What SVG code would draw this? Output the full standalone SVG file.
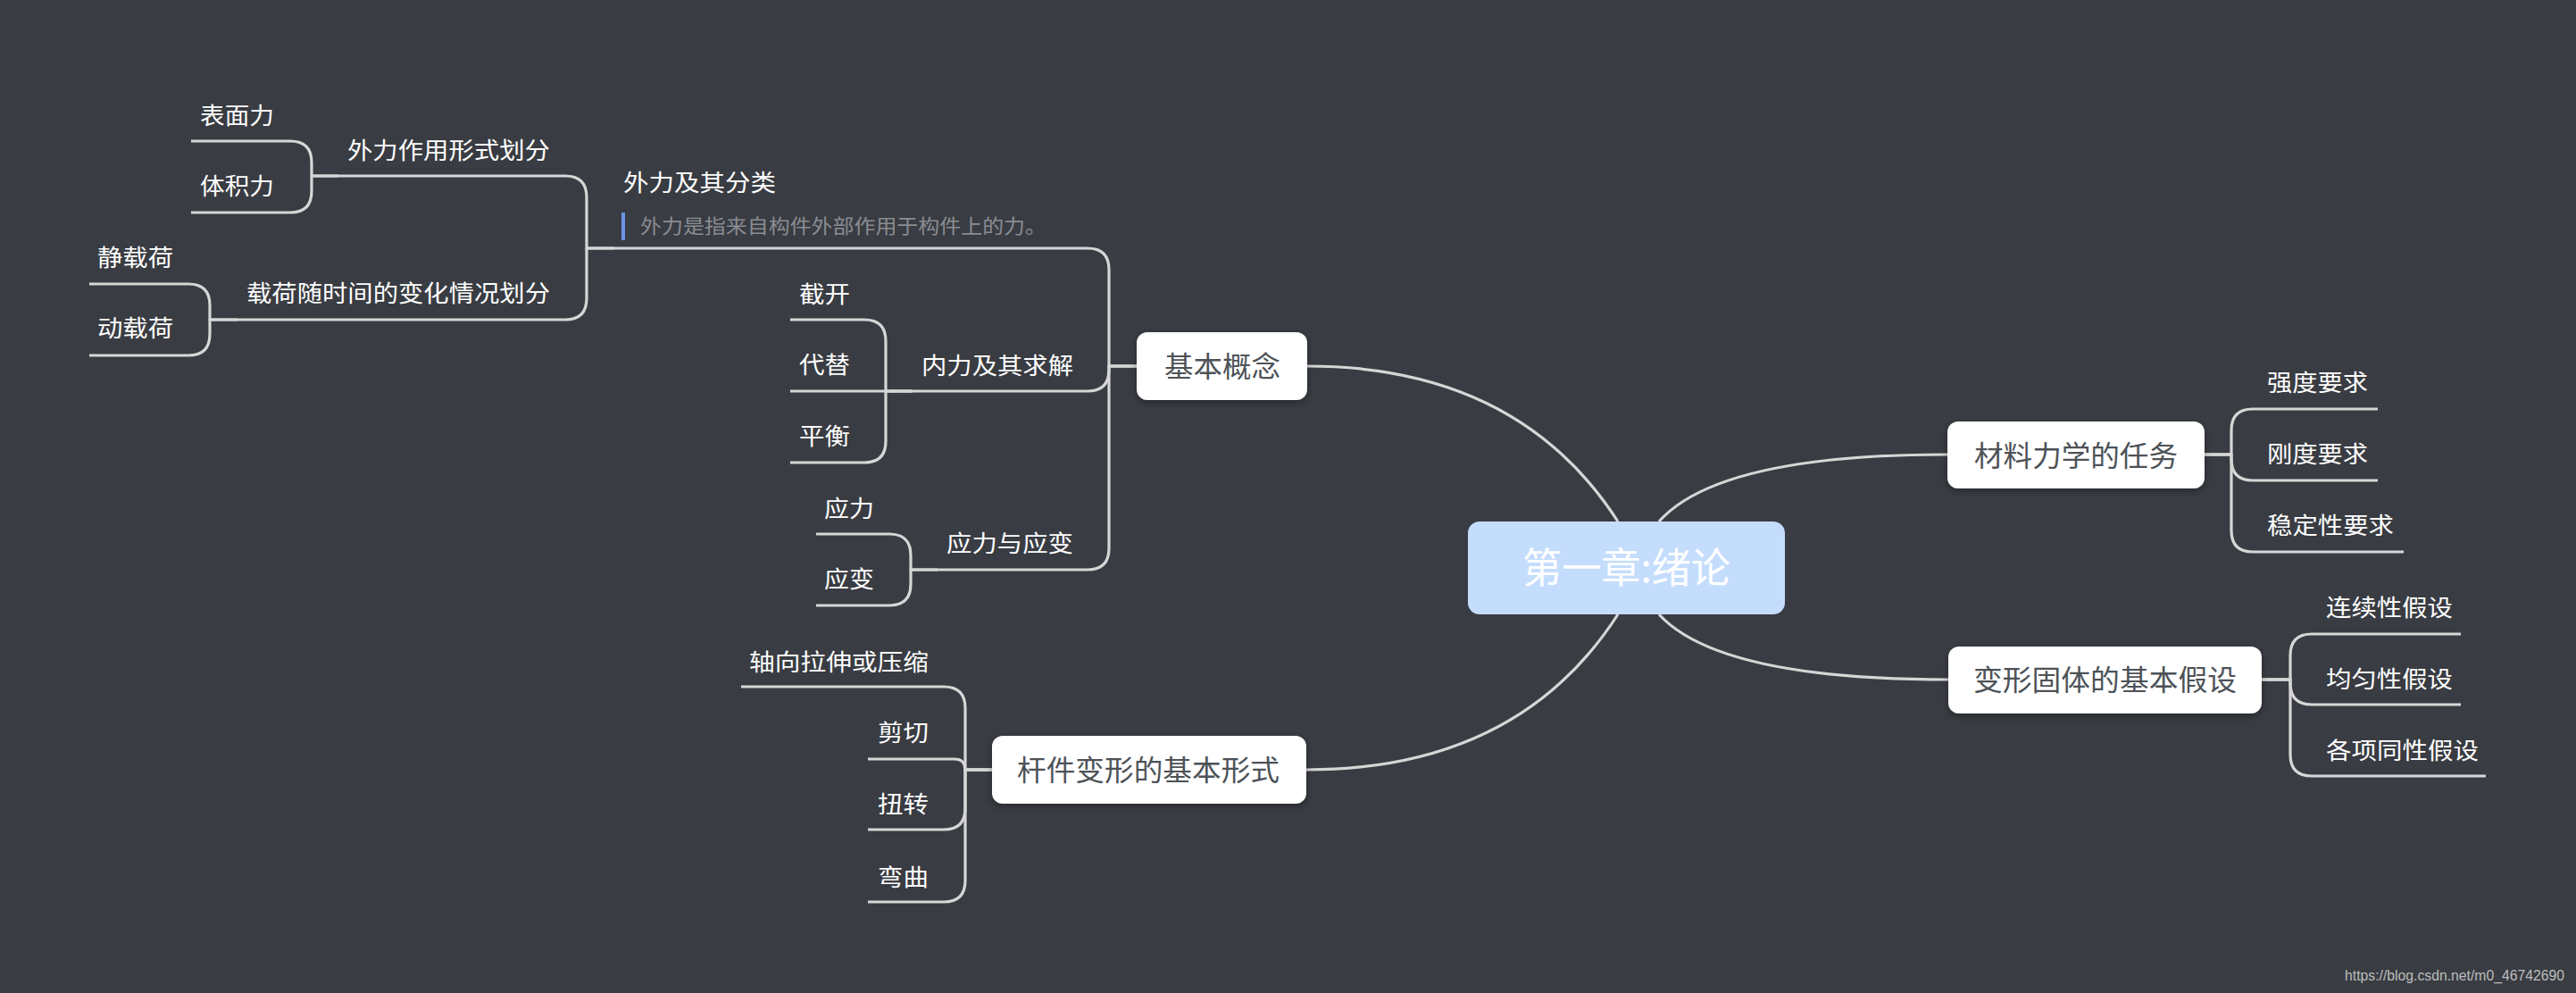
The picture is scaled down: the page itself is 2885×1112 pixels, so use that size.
<svg xmlns="http://www.w3.org/2000/svg" width="2885" height="1112" viewBox="0 0 2885 1112">
<style>
.t{font-family:"Noto Sans CJK SC","Noto Sans",sans-serif;font-size:26px;fill:#ffffff}
.bt{font-family:"Noto Sans CJK SC","Noto Sans",sans-serif;font-size:32px;fill:#4d5257}
.rt{font-family:"Noto Sans CJK SC","Noto Sans",sans-serif;font-size:46px;fill:#ffffff}
.nt{font-family:"Noto Sans CJK SC","Noto Sans",sans-serif;font-size:22px;fill:#8a8d92}
.ul{stroke:#d6d6d6;stroke-width:3.2;fill:none}
.c{stroke:#d6d6d6;stroke-width:3.2;fill:none;stroke-linejoin:round}
.box{fill:#ffffff}
.wm{font-family:"Liberation Sans",Arial,sans-serif;font-size:16px;fill:#bdbdbd}
</style>
<defs>
<filter id="sh" x="-20%" y="-30%" width="140%" height="170%">
<feDropShadow dx="0" dy="3" stdDeviation="4" flood-color="#000000" flood-opacity="0.35"/>
</filter>
</defs>
<rect x="0" y="0" width="2885" height="1112" fill="#393c42"/>

<g id="connectors">
<path class="c" d="M1812,584 Q1700,410 1464,410"/>
<path class="c" d="M1812,688 Q1700,862 1463,862"/>
<path class="c" d="M1858,584 Q1925,509 2181,509"/>
<path class="c" d="M1858,688 Q1925,761 2182,761"/>

<path class="c" d="M1273,410 H1242 V302 Q1242,278 1218,278 H1182"/>
<path class="c" d="M1273,410 H1242 V414 Q1242,438 1218,438 H1212"/>
<path class="c" d="M1273,410 H1242 V614 Q1242,638 1218,638 H1212"/>

<path class="c" d="M688,278 H657 V221 Q657,197 633,197 H626"/>
<path class="c" d="M688,278 H657 V334 Q657,358 633,358 H626"/>

<path class="c" d="M379,197 H349 V182 Q349,158 325,158 H317"/>
<path class="c" d="M379,197 H349 V214 Q349,238 325,238 H317"/>

<path class="c" d="M266,358 H235 V342 Q235,318 211,318 H204"/>
<path class="c" d="M266,358 H235 V374 Q235,398 211,398 H204"/>

<path class="c" d="M1022,438 H992 V382 Q992,358 968,358 H962"/>
<path class="c" d="M1022,438 H962"/>
<path class="c" d="M1022,438 H992 V494 Q992,518 968,518 H962"/>

<path class="c" d="M1050,638 H1020 V622 Q1020,598 996,598 H989"/>
<path class="c" d="M1050,638 H1020 V654 Q1020,678 996,678 H989"/>

<path class="c" d="M1111,862 H1081 V793 Q1081,769 1057,769 H1050"/>
<path class="c" d="M1111,862 H1081 Q1081,850 1069,850 H1050"/>
<path class="c" d="M1111,862 H1081 V905 Q1081,929 1057,929 H1050"/>
<path class="c" d="M1111,862 H1081 V986 Q1081,1010 1057,1010 H1050"/>

<path class="c" d="M2469,509 H2499 V482 Q2499,458 2523,458 H2529"/>
<path class="c" d="M2469,509 H2499 V514 Q2499,538 2523,538 H2529"/>
<path class="c" d="M2469,509 H2499 V594 Q2499,618 2523,618 H2529"/>

<path class="c" d="M2533,761 H2565 V734 Q2565,710 2589,710 H2595"/>
<path class="c" d="M2533,761 H2565 V765 Q2565,789 2589,789 H2595"/>
<path class="c" d="M2533,761 H2565 V845 Q2565,869 2589,869 H2595"/>
</g>

<g id="root">
<rect x="1644" y="584" width="355" height="104" rx="13" fill="#c5ddfd"/>
<text class="rt" x="1705" y="652" textLength="233" lengthAdjust="spacingAndGlyphs">第一章:绪论</text>
</g>

<g id="n-jibengainian">
<rect class="box" x="1273" y="372" width="191" height="76" rx="12" filter="url(#sh)"/>
<text class="bt" x="1304" y="421.5" textLength="130" lengthAdjust="spacingAndGlyphs">基本概念</text>
</g>
<g id="n-ganjian">
<rect class="box" x="1111" y="824" width="352" height="76" rx="12" filter="url(#sh)"/>
<text class="bt" x="1139" y="873.5" textLength="294" lengthAdjust="spacingAndGlyphs">杆件变形的基本形式</text>
</g>
<g id="n-renwu">
<rect class="box" x="2181" y="472" width="288" height="75" rx="12" filter="url(#sh)"/>
<text class="bt" x="2211" y="521.5" textLength="228" lengthAdjust="spacingAndGlyphs">材料力学的任务</text>
</g>
<g id="n-jiashe">
<rect class="box" x="2182" y="724" width="351" height="75" rx="12" filter="url(#sh)"/>
<text class="bt" x="2210" y="772.5" textLength="295" lengthAdjust="spacingAndGlyphs">变形固体的基本假设</text>
</g>

<g id="n-waili">
<line class="ul" x1="688" y1="278" x2="1182" y2="278"/>
<text class="t" x="698" y="213.5" textLength="171" lengthAdjust="spacingAndGlyphs">外力及其分类</text>
<rect x="696" y="238" width="4" height="31" fill="#6b93e6"/>
<text class="nt" x="717" y="261" textLength="455" lengthAdjust="spacingAndGlyphs">外力是指来自构件外部作用于构件上的力。</text>
</g>
<g id="n-zuoyong">
<line class="ul" x1="379" y1="197" x2="626" y2="197"/>
<text class="t" x="389" y="177.5" textLength="227" lengthAdjust="spacingAndGlyphs">外力作用形式划分</text>
</g>
<g id="n-biaomian">
<line class="ul" x1="214" y1="158" x2="317" y2="158"/>
<text class="t" x="224" y="138.5" textLength="83" lengthAdjust="spacingAndGlyphs">表面力</text>
</g>
<g id="n-tiji">
<line class="ul" x1="214" y1="238" x2="317" y2="238"/>
<text class="t" x="224" y="217.5" textLength="83" lengthAdjust="spacingAndGlyphs">体积力</text>
</g>
<g id="n-zaihe">
<line class="ul" x1="266" y1="358" x2="626" y2="358"/>
<text class="t" x="276" y="337.5" textLength="340" lengthAdjust="spacingAndGlyphs">载荷随时间的变化情况划分</text>
</g>
<g id="n-jing">
<line class="ul" x1="100" y1="318" x2="204" y2="318"/>
<text class="t" x="109" y="297.5" textLength="85" lengthAdjust="spacingAndGlyphs">静载荷</text>
</g>
<g id="n-dong">
<line class="ul" x1="100" y1="398" x2="204" y2="398"/>
<text class="t" x="109" y="376.5" textLength="85" lengthAdjust="spacingAndGlyphs">动载荷</text>
</g>

<g id="n-neili">
<line class="ul" x1="1022" y1="438" x2="1212" y2="438"/>
<text class="t" x="1032" y="418.5" textLength="170" lengthAdjust="spacingAndGlyphs">内力及其求解</text>
</g>
<g id="n-jiekai">
<line class="ul" x1="885" y1="358" x2="962" y2="358"/>
<text class="t" x="895" y="338.5" textLength="57" lengthAdjust="spacingAndGlyphs">截开</text>
</g>
<g id="n-daiti">
<line class="ul" x1="885" y1="438" x2="962" y2="438"/>
<text class="t" x="895" y="417.5" textLength="57" lengthAdjust="spacingAndGlyphs">代替</text>
</g>
<g id="n-pingheng">
<line class="ul" x1="885" y1="518" x2="962" y2="518"/>
<text class="t" x="895" y="497.5" textLength="57" lengthAdjust="spacingAndGlyphs">平衡</text>
</g>

<g id="n-yingliyingbian">
<line class="ul" x1="1050" y1="638" x2="1212" y2="638"/>
<text class="t" x="1060" y="617.5" textLength="142" lengthAdjust="spacingAndGlyphs">应力与应变</text>
</g>
<g id="n-yingli">
<line class="ul" x1="914" y1="598" x2="989" y2="598"/>
<text class="t" x="923" y="578.5" textLength="56" lengthAdjust="spacingAndGlyphs">应力</text>
</g>
<g id="n-yingbian">
<line class="ul" x1="914" y1="678" x2="989" y2="678"/>
<text class="t" x="923" y="657.5" textLength="56" lengthAdjust="spacingAndGlyphs">应变</text>
</g>

<g id="n-zhouxiang">
<line class="ul" x1="830" y1="769" x2="1050" y2="769"/>
<text class="t" x="839" y="750.5" textLength="201" lengthAdjust="spacingAndGlyphs">轴向拉伸或压缩</text>
</g>
<g id="n-jianqie">
<line class="ul" x1="972" y1="850" x2="1050" y2="850"/>
<text class="t" x="983" y="829.5" textLength="57" lengthAdjust="spacingAndGlyphs">剪切</text>
</g>
<g id="n-niuzhuan">
<line class="ul" x1="972" y1="929" x2="1050" y2="929"/>
<text class="t" x="983" y="909.5" textLength="57" lengthAdjust="spacingAndGlyphs">扭转</text>
</g>
<g id="n-wanqu">
<line class="ul" x1="972" y1="1010" x2="1050" y2="1010"/>
<text class="t" x="983" y="991.5" textLength="57" lengthAdjust="spacingAndGlyphs">弯曲</text>
</g>

<g id="n-qiangdu">
<line class="ul" x1="2529" y1="458" x2="2663" y2="458"/>
<text class="t" x="2539" y="437.5" textLength="113" lengthAdjust="spacingAndGlyphs">强度要求</text>
</g>
<g id="n-gangdu">
<line class="ul" x1="2529" y1="538" x2="2663" y2="538"/>
<text class="t" x="2539" y="517.5" textLength="113" lengthAdjust="spacingAndGlyphs">刚度要求</text>
</g>
<g id="n-wendingxing">
<line class="ul" x1="2529" y1="618" x2="2692" y2="618"/>
<text class="t" x="2539" y="597.5" textLength="142" lengthAdjust="spacingAndGlyphs">稳定性要求</text>
</g>

<g id="n-lianxu">
<line class="ul" x1="2595" y1="710" x2="2756" y2="710"/>
<text class="t" x="2605" y="689.5" textLength="142" lengthAdjust="spacingAndGlyphs">连续性假设</text>
</g>
<g id="n-junyun">
<line class="ul" x1="2595" y1="789" x2="2756" y2="789"/>
<text class="t" x="2605" y="769.5" textLength="142" lengthAdjust="spacingAndGlyphs">均匀性假设</text>
</g>
<g id="n-gexiang">
<line class="ul" x1="2595" y1="869" x2="2784" y2="869"/>
<text class="t" x="2605" y="849.5" textLength="171" lengthAdjust="spacingAndGlyphs">各项同性假设</text>
</g>

<text class="wm" x="2626" y="1098" textLength="246" lengthAdjust="spacingAndGlyphs">https://blog.csdn.net/m0_46742690</text>
</svg>
